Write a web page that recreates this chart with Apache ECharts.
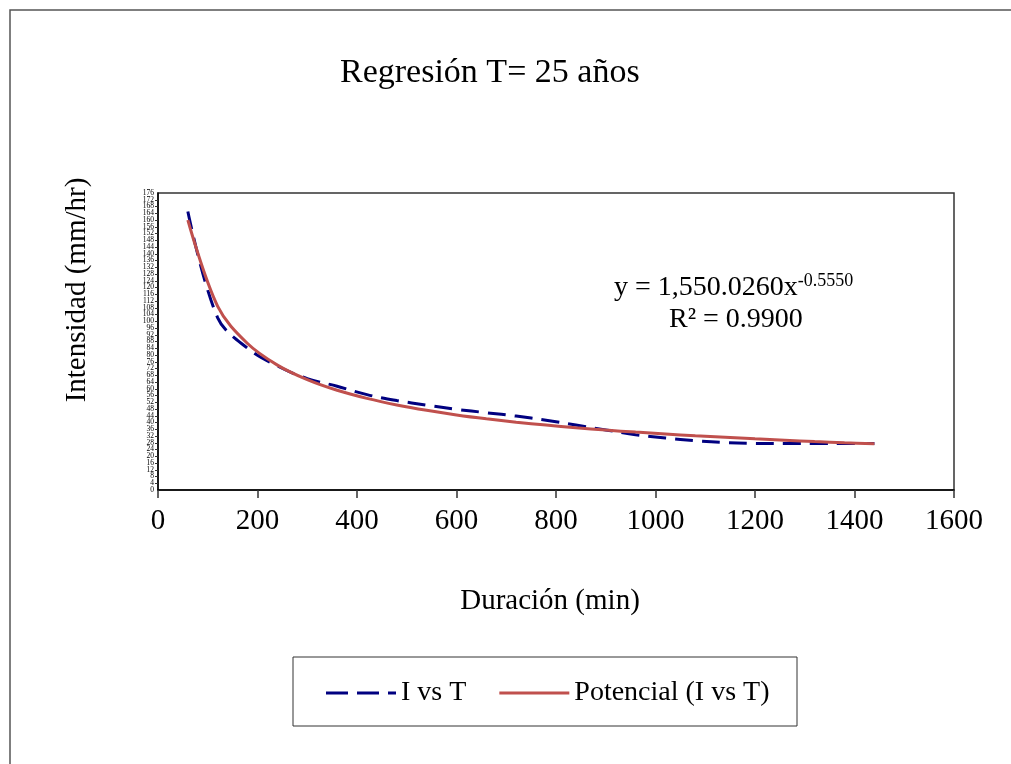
<!DOCTYPE html>
<html>
<head>
<meta charset="utf-8">
<script src="https://cdn.jsdelivr.net/npm/echarts@6/dist/echarts.min.js"></script>
<style>html,body{margin:0;padding:0;background:#fff}#c{width:1011px;height:764px}</style>
</head>
<body>
<div id="c"></div>
<script>
// Durations (min)
var durations = [60,120,180,240,300,360,420,480,540,600,660,720,780,840,900,960,1020,1080,1140,1200,1260,1320,1380,1440];
// I vs T (mm/hr)
var intensity = [165,102,84,73.5,66,61.5,56.5,53,50.3,47.8,45.8,43.8,41.3,38.5,35.6,32.8,30.8,29.2,28.1,27.6,27.5,27.5,27.5,27.5];
// Potencial (I vs T) trendline
var trend = [160,108.8,86.8,74,65.4,59.1,54.3,50.4,47.2,44.5,42.2,40.2,38.5,36.9,35.5,34.3,33.2,32.1,31.2,30.3,29.5,28.7,28,27.4];
var yTicks = {min:0, max:176, interval:4};
var xTicks = {min:0, max:1600, interval:200};
var titleText = 'Regresión T= 25 años';
var xName = 'Duración (min)';
var yName = 'Intensidad (mm/hr)';
var seriesNames = ['I vs T', 'Potencial (I vs T)'];

var FONT = '"Liberation Serif", "DejaVu Serif", serif';
function pairs(xs, ys){ return xs.map(function(x,i){ return [x, ys[i]]; }); }
var yLabelStyle = {fontFamily:FONT, fontSize:7.5, lineHeight:4, color:'#000', margin:4, interval:0, hideOverlap:false};

var chart = echarts.init(document.getElementById('c'), null, {renderer:'canvas'});
chart.setOption({
  backgroundColor:'#fff',
  animation:false,
  title:{text:titleText, left:340, top:56, padding:[0,0,0,0],
    textStyle:{fontFamily:FONT, fontSize:34, fontWeight:'normal', color:'#000'}},
  grid:{left:158, top:193, width:796, height:297, show:true, borderColor:'#333', borderWidth:1.5, backgroundColor:'transparent'},
  xAxis:{type:'value', min:xTicks.min, max:xTicks.max, interval:xTicks.interval,
    name:xName, nameLocation:'middle', nameGap:97,
    nameTextStyle:{fontFamily:FONT, fontSize:29, color:'#000', padding:[0,12,0,0]},
    axisLine:{lineStyle:{color:'#000', width:1.5}},
    axisTick:{show:true, inside:false, length:8, lineStyle:{color:'#333', width:1.5}},
    axisLabel:{fontFamily:FONT, fontSize:29, color:'#000', margin:17, formatter:function(v){return String(v);}},
    splitLine:{show:false}},
  yAxis:[
   {type:'value', position:'left', min:yTicks.min, max:yTicks.max, interval:yTicks.interval,
    axisLine:{show:true, lineStyle:{color:'#000', width:1.5}},
    axisTick:{show:true, length:3, lineStyle:{color:'#333'}},
    axisLabel:Object.assign({showMinLabel:false, showMaxLabel:false}, yLabelStyle),
    splitLine:{show:false}},
   {type:'value', position:'left', offset:0, min:yTicks.min, max:yTicks.max, interval:yTicks.interval,
    axisLine:{show:false}, axisTick:{show:false}, splitLine:{show:false},
    axisLabel:Object.assign({showMinLabel:true, showMaxLabel:true,
      formatter:function(v){ return (v===yTicks.min || v===yTicks.max) ? String(v) : ''; }}, yLabelStyle)}
  ],
  legend:{left:321, top:674, itemWidth:70, itemHeight:14, itemGap:33,
    textStyle:{fontFamily:FONT, fontSize:28, color:'#000'},
    data:[{name:seriesNames[0], icon:'path://M0,6H22V9H0Z M31,6H53V9H31Z M62,6H70V9H62Z', itemStyle:{color:'#000080'}},
          {name:seriesNames[1], icon:'path://M0,6H70V9H0Z', itemStyle:{color:'#C0504D'}}]},
  graphic:[
    {type:'rect', shape:{x:10, y:10, width:1020, height:780}, style:{fill:'none', stroke:'#555', lineWidth:1.5}, z:-1},
    {type:'rect', shape:{x:293, y:657, width:504, height:69}, style:{fill:'#fff', stroke:'#333', lineWidth:1}, z:-1},
    {type:'text', x:77, y:290, rotation:Math.PI/2, style:{text:yName, fontFamily:FONT, fontSize:29, fill:'#000', align:'center', verticalAlign:'middle'}},
    {type:'text', left:614, top:272, style:{
      text:'{a|y = 1,550.0260x}{s|-0.5550}\n{b|R² = 0.9900}',
      rich:{a:{fontFamily:FONT, fontSize:28, fill:'#000', lineHeight:32},
            s:{fontFamily:FONT, fontSize:18, fill:'#000', verticalAlign:'top', padding:[0,0,14,0]},
            b:{fontFamily:FONT, fontSize:28, fill:'#000', lineHeight:32, padding:[0,0,0,55]}}}}
  ],
  series:[
    {name:seriesNames[0], type:'line', smooth:0.35, symbol:'none', yAxisIndex:0, data:pairs(durations,intensity),
     lineStyle:{color:'#000080', width:3, type:[18,9]}, itemStyle:{color:'#000080'}, z:2},
    {name:seriesNames[1], type:'line', smooth:0.35, symbol:'none', yAxisIndex:0, data:pairs(durations,trend),
     lineStyle:{color:'#C0504D', width:3}, itemStyle:{color:'#C0504D'}, z:3}
  ]
});
</script>
</body>
</html>
